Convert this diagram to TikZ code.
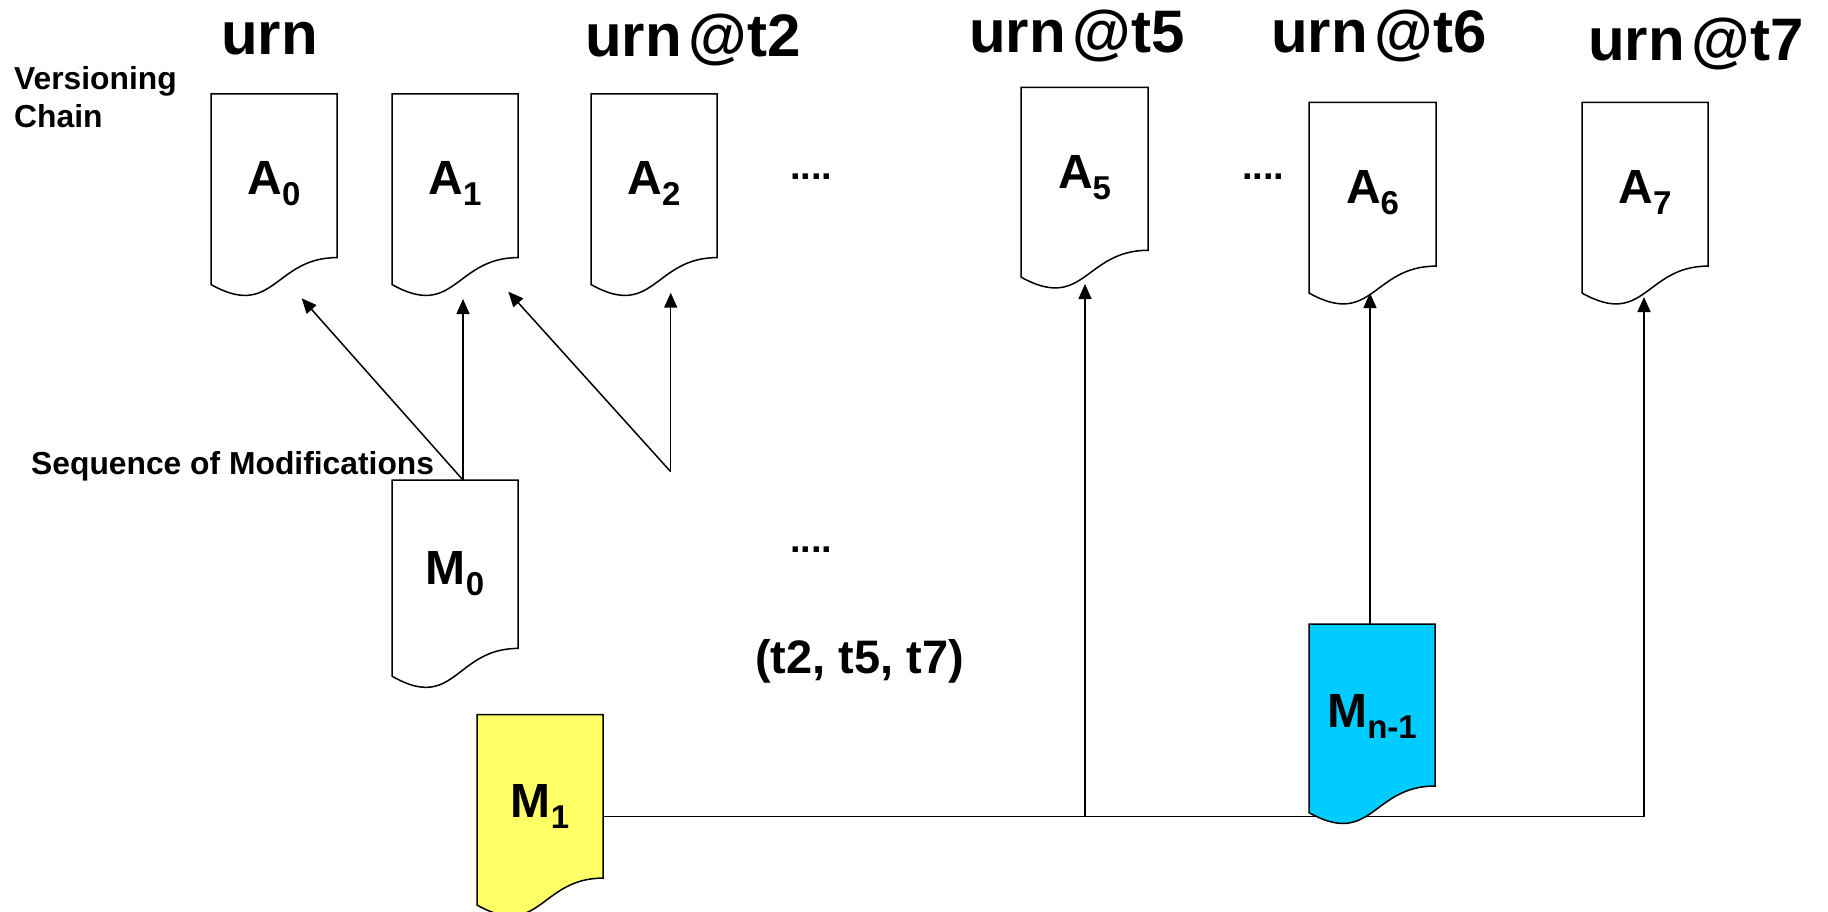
\documentclass[tikz,border=0pt]{standalone}
\usepackage{fontspec}
\setmainfont{Liberation Sans}
\usetikzlibrary{arrows.meta,calc}

\newcommand{\docsub}[1]{\raisebox{-11pt}{\fontsize{33}{33}\selectfont #1}}
\newcommand{\at}{\kern7pt@}
% node only: name, x, y, w, h
\newcommand{\docnode}[5]{%
  \node[docbox, minimum width=#4pt, minimum height=#5pt, anchor=north west] (#1) at (#2,#3) {};}
% outline: name, w, h, fill
\newcommand{\docdraw}[4]{%
  \filldraw[docline, fill=#4] (#1.north west) -- (#1.north east)
    -- ($(#1.north east)+(0,{0.802*#3})$)
    .. controls ($(#1.north west)+({0.5*#2},{0.802*#3})$) and ($(#1.north west)+({0.5*#2},{1.1075*#3})$)
    .. ($(#1.north west)+(0,{0.934*#3})$) -- cycle;}

\definecolor{myyellow}{RGB}{255,255,102}
\definecolor{mycyan}{RGB}{0,204,255}

\tikzset{
  docbox/.style={inner sep=0pt, outer sep=0pt, draw=none, rectangle},
  docline/.style={draw=black, line width=1.5pt, line join=miter},
  conn/.style={draw=black, line width=1.5pt},
  arr/.style={conn, -{Triangle[length=15pt,width=13pt]}},
  title/.style={font=\fontsize{60}{60}\selectfont\bfseries, inner sep=0pt, anchor=base west},
  lbl/.style={font=\fontsize{48}{48}\selectfont\bfseries, inner sep=0pt, anchor=base},
  small/.style={font=\fontsize{31.8}{38}\selectfont\bfseries, inner sep=0pt, anchor=base west, align=left},
  dots/.style={font=\fontsize{38}{38}\selectfont\bfseries, inner sep=0pt, anchor=base west},
  mid/.style={font=\fontsize{47}{47}\selectfont\bfseries, inner sep=0pt, anchor=base west},
}

\begin{document}
\begin{tikzpicture}[x=1pt,y=-1pt]
\useasboundingbox (0,0) rectangle (1828,912);
\clip (0,0) rectangle (1828,912);

% titles
\node[title] (T0) at (221,55) {urn};
\node[title] (T2) at (585,57) {urn\at t2};
\node[title] (T5) at (969,53) {urn\at t5};
\node[title] (T6) at (1271,53) {urn\at t6};
\node[title] (T7) at (1588,61) {urn\at t7};

\node[small] (VC) at (14,128) {Versioning\\Chain};
\node[small] (SM) at (31,474) {Sequence of Modifications};

% shape nodes
\docnode{A0}{211}{94}{126}{204}
\docnode{A1}{392}{94}{126}{204}
\docnode{A2}{591}{94}{126}{204}
\docnode{A5}{1021}{87.5}{127}{203}
\docnode{A6}{1309}{102.5}{127}{204}
\docnode{A7}{1582}{102.5}{126}{204}
\docnode{M0}{392}{480}{126}{210}
\docnode{M1}{477}{714.5}{126}{204}
\docnode{Mn}{1309}{624}{126}{202}

% A shapes
\docdraw{A0}{126}{204}{white}
\docdraw{A1}{126}{204}{white}
\docdraw{A2}{126}{204}{white}
\docdraw{A5}{127}{203}{white}
\docdraw{A6}{127}{204}{white}
\docdraw{A7}{126}{204}{white}

% arrow end points
\coordinate (m0j) at (463,480);
\coordinate (t0) at (301.7,298.3);
\coordinate (t1) at (463,299);
\coordinate (j2) at (670.7,471.7);
\coordinate (t2a) at (508.3,291.7);
\coordinate (t2b) at (670.7,292.7);
\coordinate (j5) at (1085,816.5);
\coordinate (t5) at (1085,284);
\coordinate (t6) at (1370,293);
\coordinate (t7) at (1644,297);

\draw[arr] (m0j) -- (t0);
\draw[arr] (m0j) -- (t1);
\draw[arr] (j2) -- (t2a);
\draw[arr] (j2) -- (t2b);
\draw[arr] (M1.east) -| (t7);
\draw[arr] (j5) -- (t5);
\draw[arr] (Mn.north -| t6) -- (t6);

% M shapes
\docdraw{M0}{126}{210}{white}
\docdraw{M1}{126}{204}{myyellow}
\docdraw{Mn}{126}{202}{mycyan}

% labels
\node[lbl] (A0t) at (274,195) {A\docsub{0}};
\node[lbl] (A1t) at (455,195) {A\docsub{1}};
\node[lbl] (A2t) at (654,195) {A\docsub{2}};
\node[lbl] (A5t) at (1084.5,188.5) {A\docsub{5}};
\node[lbl] (A6t) at (1372.5,204) {A\docsub{6}};
\node[lbl] (A7t) at (1645,204) {A\docsub{7}};
\node[lbl] (M0t) at (455,584) {M\docsub{0}};
\node[lbl] (M1t) at (540,817) {M\docsub{1}};
\node[lbl] (Mnt) at (1372,727) {M\docsub{n-1}};

% dots and tuple
\node[dots] (d1) at (790,180) {....};
\node[dots] (d2) at (1242,180) {....};
\node[dots] (d3) at (790,552) {....};
\node[mid] (tup) at (755,673) {(t2, t5, t7)};
\end{tikzpicture}
\end{document}
